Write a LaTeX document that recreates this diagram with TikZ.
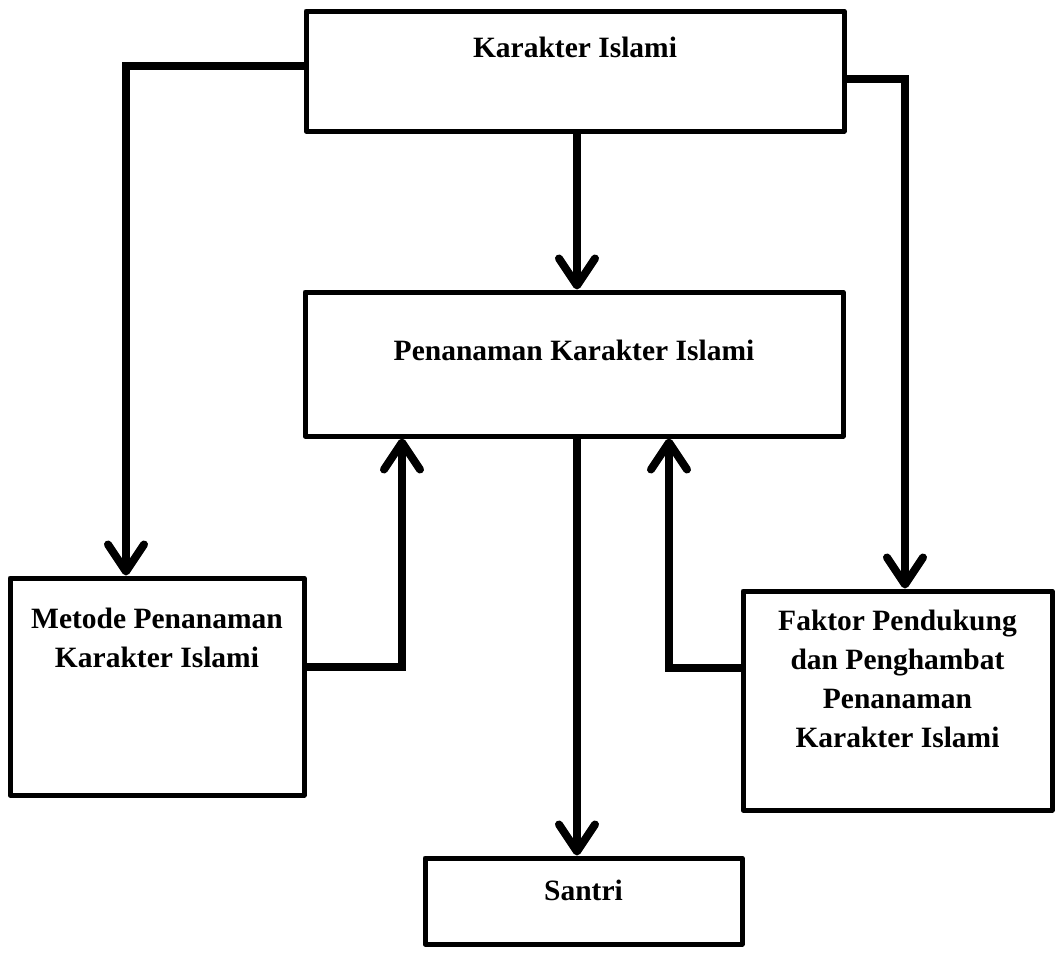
\documentclass[tikz,border=0pt]{standalone}
\usepackage{fontspec}
\setmainfont{Liberation Serif}
\usetikzlibrary{arrows.meta,positioning,calc}
\tikzset{
  box/.style={draw=black, line width=5pt, fill=white, inner sep=0pt, line join=round},
  lbl/.style={font=\bfseries\fontsize{29.5pt}{39pt}\selectfont, align=center, inner sep=0pt},
  conn/.style={line width=8pt, -{Straight Barb[length=27pt,width=36pt,line cap=round,line join=round]}},
  link/.style={line width=8pt}
}
\begin{document}
\begin{tikzpicture}[x=1pt,y=-1pt]
\useasboundingbox (0,0) rectangle (1058,953);
% boxes
\node[box, minimum width=538pt, minimum height=120pt] (k) at (575,71) {};
\node[box, minimum width=538pt, minimum height=144pt] (p) at (574,364) {};
\node[box, minimum width=294pt, minimum height=217pt] (m) at (157,686.5) {};
\node[box, minimum width=309pt, minimum height=219pt] (f) at (897.5,700.5) {};
\node[box, minimum width=317pt, minimum height=86pt] (s) at (583.5,901) {};
% labels
\node[lbl] (kt) at (575,47) {Karakter Islami};
\node[lbl] (pt) at (574,350) {Penanaman Karakter Islami};
\node[lbl] (mt) at (157,638) {Metode Penanaman\\Karakter Islami};
\node[lbl, text depth=0pt] (ft) at (897.5,679) {Faktor Pendukung\\dan Penghambat\\Penanaman\\Karakter Islami};
\node[lbl] (st) at (583.5,890) {Santri};
% connectors
\draw[conn] ([yshift=5pt]k.west) -| ([xshift=-31pt]m.north);
\draw[conn] ([yshift=-8pt]k.east) -| ([xshift=7.5pt]f.north);
\draw[conn] ([xshift=2pt]k.south) -- ([xshift=3pt]p.north);
\draw[conn] ([yshift=19.5pt]m.east) -| ([xshift=-172pt]p.south);
\draw[conn] ([yshift=32.5pt]f.west) -| ([xshift=95pt]p.south);
\draw[conn] ([xshift=3pt]p.south) -- ([xshift=3pt]p.south |- s.north);
\end{tikzpicture}
\end{document}
